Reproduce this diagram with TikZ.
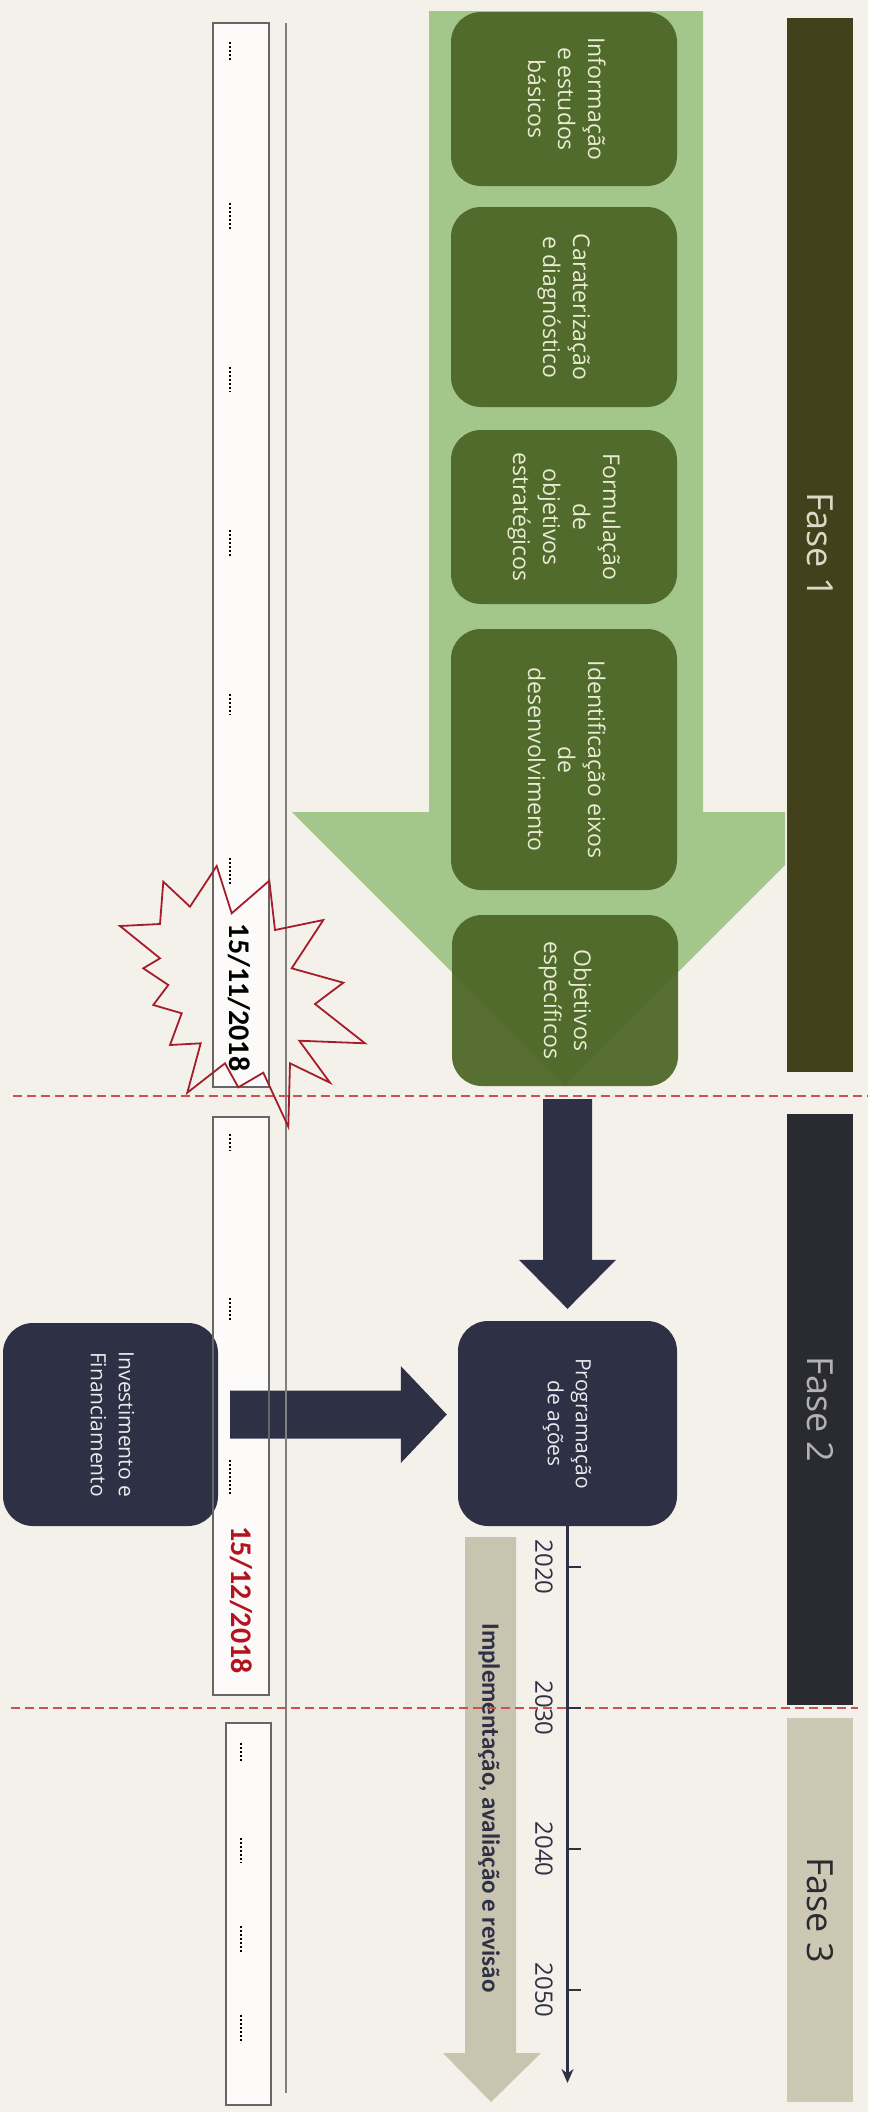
\documentclass[tikz,border=0pt]{standalone}
\usepackage{fontspec}
\setmainfont{Open Sans}
\newfontfamily\calfont{Carlito}
\usepackage{graphicx}
\usetikzlibrary{calc,arrows.meta}

\definecolor{paper}{HTML}{F4F1EA}
\definecolor{faseone}{HTML}{42411C}
\definecolor{fasetwo}{HTML}{2A2B31}
\definecolor{fasethree}{HTML}{CDC8B4}
\definecolor{arrowgreen}{HTML}{A3C68A}
\definecolor{boxgreen}{HTML}{4A6424}
\definecolor{boxtext}{HTML}{E9EBD3}
\definecolor{navy}{HTML}{2E3146}
\definecolor{tan}{HTML}{C9C4B0}
\definecolor{cutred}{HTML}{D05050}
\definecolor{starred}{HTML}{A51D2B}
\definecolor{datered}{HTML}{B3121E}

\newcommand{\vtext}[1]{\rotatebox{-90}{\begin{tabular}{@{}c@{}}#1\end{tabular}}}

\begin{document}
\begin{tikzpicture}[x=1pt,y=-1pt,
  phasebar/.style={fill=#1, minimum width=66pt, inner sep=0pt},
  stepbox/.style={fill=boxgreen, fill opacity=0.92, text opacity=1, text=boxtext,
    rounded corners=30pt, minimum width=226pt, inner sep=0pt,
    font=\fontsize{23}{30}\selectfont},
  navybox/.style={fill=navy, text=white!90!navy, rounded corners=30pt,
    inner sep=0pt, font=\fontsize{21}{28}\selectfont},
  dotmark/.style={line width=2.2pt, dash pattern=on 1.6pt off 2.4pt},
  cutline/.style={draw=cutred, line width=1.6pt, dash pattern=on 9pt off 5pt},
  yearlbl/.style={text=navy, inner sep=0pt, font=\fontsize{24}{24}\selectfont},
]
\fill[paper] (0,0) rectangle (868,2112);
\useasboundingbox (0,0) rectangle (868,2112);

% phase bars
\node[phasebar=faseone, minimum height=1054pt, text=boxtext!85!gray,
  font=\fontsize{36}{36}\selectfont] (fase1) at (820,545) {\rotatebox{-90}{Fase 1}};
\node[phasebar=fasetwo, minimum height=591pt, text=gray!60,
  font=\fontsize{36}{36}\selectfont] (fase2) at (820,1409.5) {\rotatebox{-90}{Fase 2}};
\node[phasebar=fasethree, minimum height=384pt, text=fasetwo,
  font=\fontsize{36}{36}\selectfont] (fase3) at (820,1910) {\rotatebox{-90}{Fase 3}};

% big green arrow of fase 1 (head cut at the bar)
\fill[arrowgreen] (429,11) -- (429,812) -- (292,812) -- (565,1085) -- (785,865)
  -- (785,812) -- (703,812) -- (703,11) -- cycle;

% left date strips
\foreach \xa/\ya/\xb/\yb in {213/23/269/1087, 213/1117/269/1695, 226/1723/271/2105}
  \fill[white!75!paper] (\xa,\ya) rectangle (\xb,\yb);

% steps of fase 1
\node[stepbox, minimum height=174pt] (info) at (564,99)
  {\vtext{Informação\\e estudos\\básicos}};
\node[stepbox, minimum height=200pt] (carat) at (564,307)
  {\vtext{Caraterização\\e diagnóstico}};
\node[stepbox, minimum height=174pt] (formul) at (564,517)
  {\vtext{Formulação\\de\\objetivos\\estratégicos}};
\node[stepbox, minimum height=261pt] (eixos) at (564,759.5)
  {\vtext{Identificação eixos\\de\\desenvolvimento}};
\node[stepbox, minimum height=171pt] (obj) at (565,1000.5)
  {\vtext{Objetivos\\específicos}};

% fase 2
\node[navybox, minimum width=219pt, minimum height=205pt] (prog) at (567.5,1423.5)
  {\vtext{Programação\\de ações}};
\node[navybox, minimum width=215pt, minimum height=203pt] (inv) at (110.5,1424.5)
  {\vtext{Investimento e\\Financiamento}};

\coordinate (dtop) at ($(obj.south -| prog.north)+(0,13)$);
\coordinate (dtip) at ($(prog.north)+(0,-12)$);
\fill[navy] ($(dtop)+(-24.5,0)$) -- ($(dtop)+(24.5,0)$) -- ($(dtip)+(24.5,-49)$)
  -- ($(dtip)+(48.5,-49)$) -- (dtip) -- ($(dtip)+(-48.5,-49)$)
  -- ($(dtip)+(-24.5,-49)$) -- cycle;

\coordinate (rtip) at ($(prog.west)+(-11,-9)$);
\coordinate (rtail) at ($(inv.east |- rtip)+(12,0)$);
\fill[navy] ($(rtail)+(0,-24)$) -- ($(rtail)+(0,24)$) -- ($(rtip)+(-46,24)$)
  -- ($(rtip)+(-46,48.5)$) -- (rtip) -- ($(rtip)+(-46,-48.5)$)
  -- ($(rtip)+(-46,-24)$) -- cycle;

% fase 3
\fill[tan] (465,1537) -- (465,2053) -- (443,2053) -- (491,2102) -- (541,2053)
  -- (516,2053) -- (516,1537) -- cycle;
\node[text=navy, font=\calfont\bfseries\fontsize{25}{25}\selectfont] (impl) at (489,1808)
  {\rotatebox{-90}{Implementação, avaliação e revisão}};

% strips outlines, rule and dotted marks
\foreach \xa/\ya/\xb/\yb in {213/23/269/1087, 213/1117/269/1695, 226/1723/271/2105}
  \draw[gray!80!black, line width=1.2pt] (\xa,\ya) rectangle (\xb,\yb);
\draw[gray, line width=1.5pt] (286,23) -- (286,2093);
\foreach \x/\ya/\yb in {230/42/60, 230/203/230, 230/367/392, 230/530/556, 230/694/715,
  230/858/885, 230/1134/1151, 230/1298/1321, 230/1460/1495, 241/1743/1762,
  241/1838/1863, 241/1926/1952, 241/2015/2043}
  \draw[dotmark] (\x,\ya) -- (\x,\yb);

% milestones
\draw[cutline] (13,1096) -- (868,1096);
\draw[cutline] (11,1708) -- (858,1708);
\draw[starred, line width=1.8pt, line join=miter] (216.7,866) -- (231.7,913.3) -- (269.3,880.7)
  -- (275,930) -- (323.3,920) -- (291.7,968.3) -- (343.3,982.7) -- (315,1004)
  -- (365,1043.3) -- (299.3,1040.7) -- (330,1082.7) -- (290,1063.3) -- (288.3,1126.7)
  -- (263.3,1072.7) -- (238.3,1087.3) -- (225,1063.3) -- (187.3,1092.7) -- (200.7,1043.3)
  -- (170,1045) -- (181.7,1013.3) -- (153.3,1005) -- (168.3,985) -- (143.3,968.3)
  -- (160,958.3) -- (120,926) -- (160,924) -- (163.3,881.7) -- (190,906.7) -- cycle;
\node[text=black, font=\calfont\bfseries\fontsize{30}{30}\selectfont] (d1811) at (239,997.5)
  {\rotatebox{-90}{15/11/2018}};
\node[text=datered, font=\calfont\bfseries\fontsize{30}{30}\selectfont] (d1512) at (241,1600)
  {\rotatebox{-90}{15/12/2018}};

% timeline
\coordinate (tend) at (567.5,2083);
\draw[navy, line width=2.6pt, -{Stealth[length=14pt,width=12pt]}] (prog.south) -- (tend);
\foreach \yr/\y in {2020/1567, 2030/1708, 2040/1849, 2050/1990}{
  \draw[navy, line width=2pt] (567.5,\y) -- ++(13,0);
  \node[yearlbl] (y\yr) at (544,\y) {\rotatebox{-90}{\yr}};
}
\end{tikzpicture}
\end{document}
